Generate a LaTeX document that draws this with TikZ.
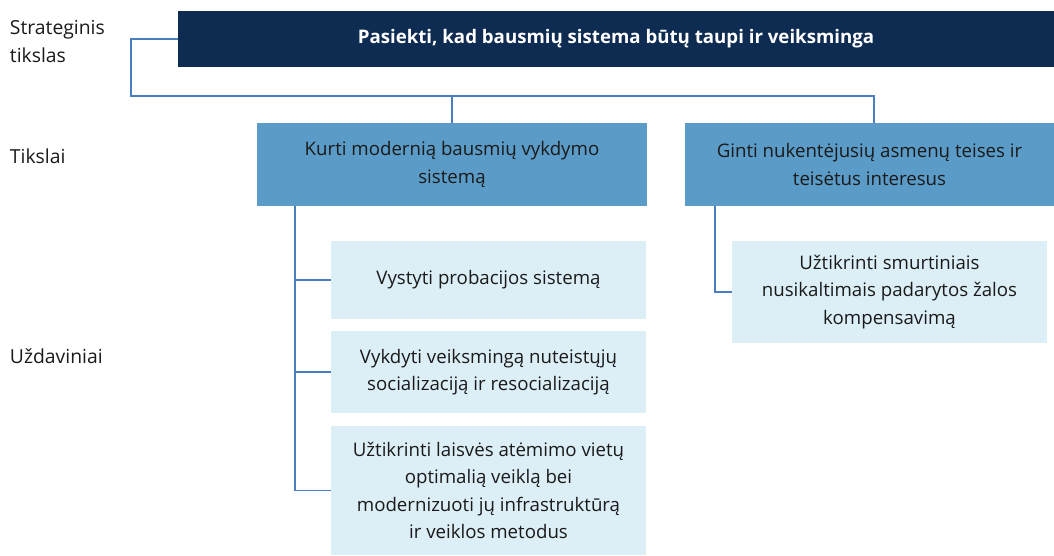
\documentclass[tikz,border=0pt]{standalone}
\usepackage{fontspec}
\setmainfont{Open Sans}
\definecolor{navy}{HTML}{0E2B51}
\definecolor{midblue}{HTML}{5B9BC7}
\definecolor{lightblue}{HTML}{DCEFF7}
\definecolor{linkblue}{HTML}{4A7EC1}
\definecolor{txt}{HTML}{1A1A1A}
\begin{document}
\begin{tikzpicture}[x=0.75pt,y=-0.75pt,
  every node/.style={inner sep=0pt, outer sep=0pt, font=\fontsize{14}{20.5}\selectfont},
  topbox/.style={fill=navy, text=white, anchor=north west, align=center, font=\fontsize{14}{20}\selectfont\bfseries},
  goalbox/.style={fill=midblue, text=txt, anchor=north west, align=center},
  taskbox/.style={fill=lightblue, text=txt, anchor=north west, align=center},
  lbl/.style={anchor=north west, align=left, text=txt, font=\fontsize{14.5}{21.5}\selectfont},
  link/.style={draw=linkblue, line width=1.4pt}]
\useasboundingbox (0,0) rectangle (1054,556);
% labels
\node[lbl] (l1) at (10,20) {Strateginis\\tikslas};
\node[lbl] (l2) at (10,149) {Tikslai};
\node[lbl] (l3) at (10,349) {Uždaviniai};
% boxes
\node[topbox, minimum width=876*0.75pt, minimum height=56*0.75pt] (top) at (178,11) {Pasiekti, kad bausmių sistema būtų taupi ir veiksminga};
\node[goalbox, minimum width=390*0.75pt, minimum height=83*0.75pt] (kurti) at (257,123) {Kurti modernią bausmių vykdymo\\sistemą};
\node[goalbox, minimum width=369*0.75pt, minimum height=83*0.75pt] (ginti) at (685,123) {Ginti nukentėjusių asmenų teises ir\\teisėtus interesus};
\node[taskbox, minimum width=315*0.75pt, minimum height=78*0.75pt] (s1) at (331,241) {Vystyti probacijos sistemą};
\node[taskbox, minimum width=315*0.75pt, minimum height=82*0.75pt] (s2) at (331,331) {Vykdyti veiksmingą nuteistųjų\\socializaciją ir resocializaciją};
\node[taskbox, minimum width=315*0.75pt, minimum height=129*0.75pt] (s3) at (331,426) {Užtikrinti laisvės atėmimo vietų\\optimalią veiklą bei\\modernizuoti jų infrastruktūrą\\ir veiklos metodus};
\node[taskbox, minimum width=315*0.75pt, minimum height=102*0.75pt] (g1) at (732,241) {Užtikrinti smurtiniais\\nusikaltimais padarytos žalos\\kompensavimą};
% connectors
\coordinate (jL) at (131,96);
\coordinate (jR) at (874,96);
\coordinate (kb) at (295,206);
\coordinate (gb) at (715,206);
\draw[link] (top.west) -| (jL) -- (jR) -- (jR |- ginti.north);
\draw[link] (kurti.north |- jL) -- (kurti.north);
\draw[link] (kb) |- (s1.west);
\draw[link] (kb) |- (s2.west);
\draw[link] (kb) |- (s3.west);
\draw[link] (gb) |- (g1.west);
\end{tikzpicture}
\end{document}
